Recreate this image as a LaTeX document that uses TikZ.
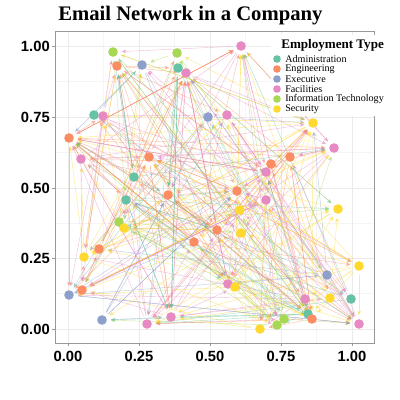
\documentclass[tikz,border=0pt]{standalone}
\usepackage{fontspec}
\setmainfont{Liberation Serif}
\newfontfamily\axisfont{Liberation Sans}
\usetikzlibrary{arrows.meta}
\definecolor{cA}{HTML}{66C2A5}
\definecolor{cE}{HTML}{FC8D62}
\definecolor{cX}{HTML}{8DA0CB}
\definecolor{cF}{HTML}{E78AC3}
\definecolor{cI}{HTML}{A6D854}
\definecolor{cS}{HTML}{FFD92F}
\definecolor{gridc}{HTML}{EBEBEB}
\definecolor{gridm}{HTML}{F5F5F5}
\pgfdeclarelayer{bg}
\pgfdeclarelayer{edges}
\pgfdeclarelayer{front}
\pgfsetlayers{bg,edges,main,front}
\tikzset{
  dot/.style={circle,inner sep=0pt,minimum size=0.24cm,outer sep=0.1cm},
  edge/.style={line width=0.3pt,opacity=0.55,-{Stealth[length=3.2pt,width=2.8pt]}},
  ticklab/.style={font=\axisfont\bfseries\fontsize{10.5}{12}\selectfont,inner sep=0pt},
  legdot/.style={circle,inner sep=0pt,minimum size=0.19cm},
  legtxt/.style={anchor=west,inner sep=0pt,font=\fontsize{7.2}{8}\selectfont},
}
\begin{document}
\begin{tikzpicture}[x=0.025cm,y=-0.025cm]
\useasboundingbox (0,0) rectangle (400,400);
% panel
\begin{pgfonlayer}{bg}
  \fill[white] (0,0) rectangle (400,400);
  \foreach \v in {103.5,174.5,245.5,316.5} \draw[gridm,line width=0.4pt] (\v,31) -- (\v,343);
  \foreach \v in {81.5,152.5,223,293.5} \draw[gridm,line width=0.4pt] (55,\v) -- (374,\v);
  \foreach \v in {68,139,210,281,352} \draw[gridc,line width=0.5pt] (\v,31) -- (\v,343);
  \foreach \v in {46,117,188,258,329} \draw[gridc,line width=0.5pt] (55,\v) -- (374,\v);
\end{pgfonlayer}
\draw[gray!80,line width=0.6pt] (55,31) rectangle (374,343);
\foreach \v in {68,139,210,281,352} \draw[gray!80,line width=0.5pt] (\v,343) -- (\v,346);
\foreach \v in {46,117,188,258,329} \draw[gray!80,line width=0.5pt] (52,\v) -- (55,\v);
% tick labels
\node[ticklab,anchor=east] (y100) at (50,46) {1.00};
\node[ticklab,anchor=east] (y075) at (50,117) {0.75};
\node[ticklab,anchor=east] (y050) at (50,188) {0.50};
\node[ticklab,anchor=east] (y025) at (50,258) {0.25};
\node[ticklab,anchor=east] (y000) at (50,329) {0.00};
\node[ticklab] (x000) at (68,356) {0.00};
\node[ticklab] (x025) at (139,356) {0.25};
\node[ticklab] (x050) at (210,356) {0.50};
\node[ticklab] (x075) at (281,356) {0.75};
\node[ticklab] (x100) at (352,356) {1.00};
% title
\node[anchor=west,inner sep=0pt,font=\bfseries\fontsize{14.7}{18}\selectfont] (title) at (58,16) {Email Network in a Company};
% nodes
\foreach \i/\px/\py/\t in {
1/113/52/I, 2/177/53/I, 3/117/66/E, 4/142/65/X, 5/178/68/A, 6/186/73/F, 7/241/46/F,
8/94/115/A, 9/103/116/F, 10/208/117/X, 11/227/115/F, 12/69/138/E, 13/81/159/F,
14/149/157/E, 15/134/177/A, 16/126/200/A, 17/168/195/E, 18/119/222/I, 19/124/228/S,
20/99/249/E, 21/84/257/S, 22/69/295/X, 23/82/290/E, 24/102/320/X, 25/147/324/F,
26/171/317/F, 27/194/242/E, 28/217/230/E, 29/228/284/F, 30/235/287/S, 31/237/191/E,
32/266/172/F, 33/266/200/F, 34/271/164/E, 35/290/157/E, 36/240/210/S, 37/241/233/S,
38/313/123/S, 39/334/148/F, 40/338/209/S, 41/359/266/S, 42/327/275/X, 43/330/298/S,
44/351/299/A, 45/305/299/F, 46/308/314/A, 47/312/319/E, 48/284/319/I, 49/277/325/I,
50/260/329/S, 51/359/324/F}{
  \node[dot,fill=c\t] (n\i) at (\px,\py) {};
  \expandafter\xdef\csname ecol\i\endcsname{c\t}
}
% edges
\pgfmathsetseed{4242}
\begin{pgfonlayer}{edges}
\foreach \k in {1,...,240}{
  \pgfmathtruncatemacro\a{random(1,51)}
  \pgfmathtruncatemacro\b{random(1,51)}
  \ifnum\a=\b\else
    \edef\ec{\csname ecol\a\endcsname}
    \draw[edge,color=\ec] (n\a) -- (n\b);
  \fi
}
\foreach \k in {1,...,140}{
  \pgfmathtruncatemacro\a{random(1,51)}
  \pgfmathtruncatemacro\b{{3,7,12,14,17,31,32,38,39,28,6,23,26,51,29,47}[random(0,15)]}
  \ifnum\a=\b\else
    \edef\ec{\csname ecol\a\endcsname}
    \draw[edge,color=\ec] (n\a) -- (n\b);
  \fi
}
\end{pgfonlayer}
% legend
\begin{pgfonlayer}{front}
\fill[white] (271,35) rectangle (387,116);
\node[anchor=west,inner sep=0pt,font=\bfseries\fontsize{9.3}{11}\selectfont] (legtitle) at (281,45) {Employment Type};
\foreach \j/\t/\lab in {0/A/Administration,1/E/Engineering,2/X/Executive,3/F/Facilities,4/I/Information Technology,5/S/Security}{
  \node[legdot,fill=c\t] (ld\j) at (277,{59+10*\j}) {};
  \node[legtxt] (lt\j) at (285,{59+10*\j}) {\lab};
}
\end{pgfonlayer}
\end{tikzpicture}
\end{document}
